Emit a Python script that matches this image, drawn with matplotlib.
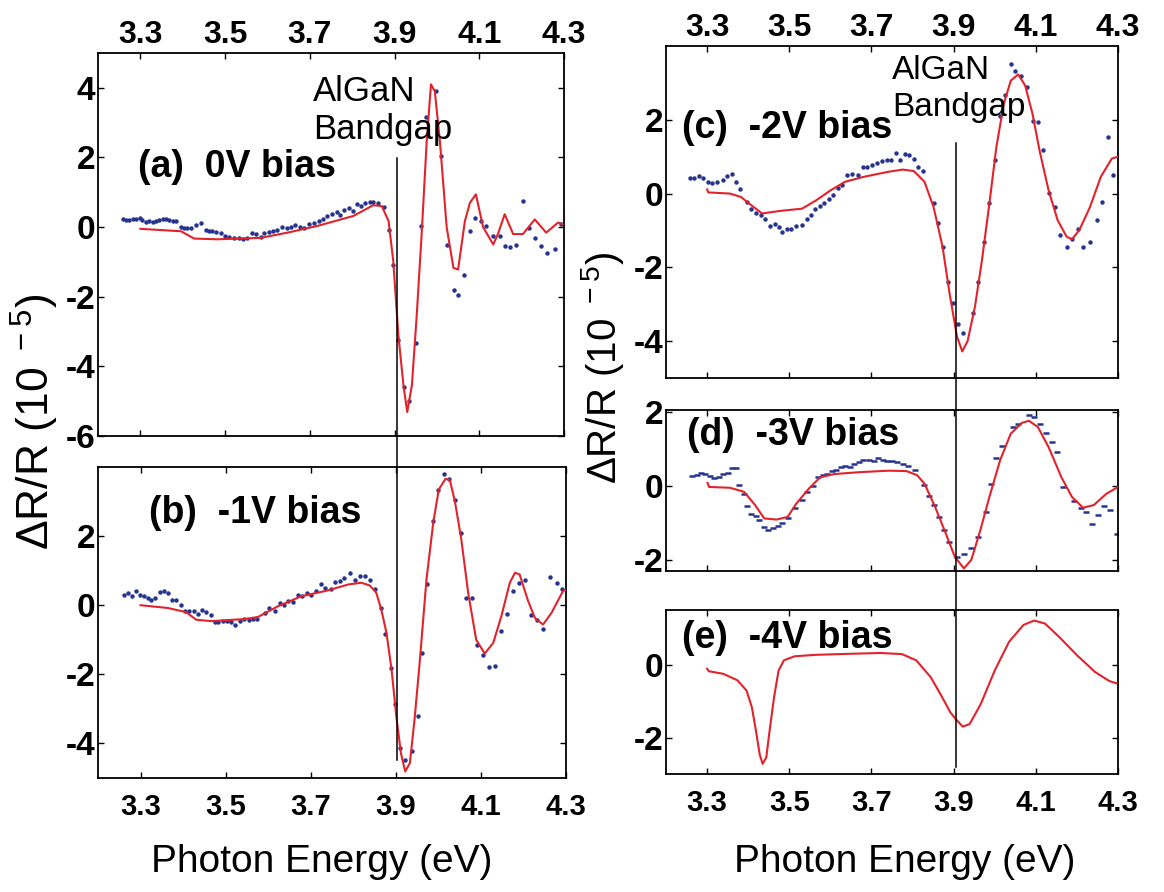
import matplotlib
matplotlib.use('Agg')
import matplotlib.pyplot as plt
import matplotlib.transforms as mtransforms
from matplotlib.lines import Line2D
from matplotlib import font_manager

plt.rcParams['font.family'] = ['Liberation Sans', 'DejaVu Sans']
plt.rcParams['mathtext.fontset'] = 'custom'
plt.rcParams['mathtext.rm'] = 'Liberation Sans'
plt.rcParams['mathtext.default'] = 'regular'

installed = {f.name for f in font_manager.fontManager.ttflist}
narrow = 'Liberation Sans Narrow' if 'Liberation Sans Narrow' in installed else 'Liberation Sans'

# ---- data (photon energy in eV, dR/R in 1e-5) ----
energy_ticks = [3.3, 3.5, 3.7, 3.9, 4.1, 4.3]
bandgap = 3.905

# (a) 0V bias
a_fit_E = [3.300, 3.396, 3.427, 3.482, 3.584, 3.647, 3.717, 3.803, 3.850, 3.870,
           3.886, 3.897, 3.909, 3.921, 3.930, 3.941, 3.952, 3.964, 3.976, 3.986,
           3.995, 4.007, 4.023, 4.039, 4.050, 4.066, 4.078, 4.092, 4.109, 4.133,
           4.144, 4.160, 4.180, 4.203, 4.231, 4.258, 4.286, 4.297]
a_fit = [-0.05, -0.12, -0.33, -0.35, -0.31, -0.16, 0.03, 0.32, 0.63, 0.60,
         0.17, -0.98, -3.10, -4.54, -5.31, -4.54, -2.60, -0.20, 2.48, 4.10,
         3.90, 2.48, 0.00, -1.17, -1.22, 0.17, 0.70, 0.94, 0.00, -0.50,
         -0.20, 0.37, -0.20, -0.20, 0.22, -0.16, 0.13, 0.08]
a_dat_E = [3.258, 3.266, 3.274, 3.282, 3.290, 3.298, 3.305, 3.313, 3.321, 3.329,
           3.337, 3.345, 3.353, 3.360, 3.368, 3.376, 3.384, 3.396, 3.403, 3.411,
           3.419, 3.431, 3.443, 3.454, 3.462, 3.470, 3.478, 3.490, 3.499, 3.509,
           3.521, 3.533, 3.543, 3.552, 3.564, 3.574, 3.584, 3.593, 3.603, 3.614,
           3.623, 3.635, 3.647, 3.656, 3.666, 3.676, 3.686, 3.697, 3.709, 3.721,
           3.731, 3.741, 3.752, 3.763, 3.772, 3.781, 3.792, 3.801, 3.811, 3.821,
           3.831, 3.841, 3.850, 3.862, 3.874,
           3.888, 3.897, 3.909, 3.922, 3.934, 3.950, 3.962, 3.974, 3.998, 4.009,
           4.024, 4.040, 4.050, 4.064, 4.078, 4.091, 4.105, 4.117, 4.133, 4.148,
           4.160, 4.173, 4.187, 4.203, 4.217, 4.231, 4.246, 4.260, 4.278, 4.293]
a_dat = [0.22, 0.21, 0.21, 0.22, 0.23, 0.26, 0.19, 0.16, 0.17, 0.16,
         0.17, 0.20, 0.24, 0.22, 0.19, 0.17, 0.17, 0.00, -0.04, -0.04,
         -0.02, 0.05, 0.12, -0.07, -0.10, -0.10, -0.15, -0.18, -0.25, -0.28,
         -0.30, -0.32, -0.35, -0.30, -0.18, -0.20, -0.29, -0.17, -0.15, -0.12,
         -0.08, 0.00, -0.03, 0.00, 0.05, 0.01, -0.04, 0.10, 0.12, 0.17,
         0.22, 0.33, 0.38, 0.42, 0.35, 0.50, 0.55, 0.47, 0.67, 0.62,
         0.70, 0.73, 0.72, 0.70, 0.57,
         -0.07, -1.08, -3.24, -4.59, -5.00, -3.34, 0.03, 3.15, 3.92, 2.05,
         -0.50, -1.80, -1.94, -1.37, -0.10, 0.25, 0.17, 0.03, -0.26, -0.26,
         -0.55, -0.58, -0.50, 0.75, -0.02, -0.31, -0.53, -0.74, -0.62, 0.08]

# (b) -1V bias
b_fit_E = [3.300, 3.364, 3.407, 3.431, 3.466, 3.545, 3.576, 3.623, 3.678, 3.741,
           3.788, 3.819, 3.839, 3.854, 3.866, 3.878, 3.890, 3.901, 3.912, 3.922,
           3.933, 3.944, 3.956, 3.972, 3.988, 4.001, 4.017, 4.027, 4.039, 4.054,
           4.070, 4.089, 4.109, 4.129, 4.148, 4.168, 4.180, 4.191, 4.211, 4.227,
           4.246, 4.266, 4.293, 4.300]
b_fit = [0.00, -0.08, -0.20, -0.42, -0.46, -0.40, -0.34, -0.03, 0.26, 0.43,
         0.60, 0.65, 0.57, 0.36, -0.13, -0.80, -1.86, -3.20, -4.28, -4.81,
         -4.57, -3.31, -1.67, 0.74, 2.39, 3.35, 3.66, 3.62, 3.00, 1.90,
         0.36, -1.00, -1.40, -1.09, -0.32, 0.65, 0.94, 0.89, 0.12, -0.37,
         -0.56, -0.22, 0.41, 0.45]
b_dat_E = [3.262, 3.270, 3.280, 3.290, 3.299, 3.308, 3.317, 3.325, 3.333, 3.345,
           3.355, 3.364, 3.374, 3.384, 3.394, 3.405, 3.415, 3.425, 3.435, 3.444,
           3.454, 3.465, 3.474, 3.483, 3.494, 3.504, 3.513, 3.523, 3.533, 3.543,
           3.554, 3.564, 3.574, 3.592, 3.603, 3.615, 3.627, 3.637, 3.647, 3.658,
           3.670, 3.680, 3.691, 3.701, 3.713, 3.723, 3.734, 3.747, 3.756, 3.768,
           3.778, 3.792, 3.805, 3.815, 3.827, 3.839, 3.850, 3.864, 3.875, 3.888,
           3.899, 3.911, 3.922, 3.937, 3.951, 3.962, 3.974, 3.988, 3.999, 4.013,
           4.025, 4.039, 4.053, 4.064, 4.078, 4.091, 4.105, 4.118, 4.133, 4.148,
           4.162, 4.176, 4.189, 4.203, 4.217, 4.231, 4.246, 4.262, 4.278, 4.291]
b_dat = [0.31, 0.36, 0.26, 0.41, 0.29, 0.26, 0.21, 0.16, 0.21, 0.39,
         0.41, 0.36, 0.16, 0.16, 0.02, -0.17, -0.17, -0.17, -0.25, -0.14,
         -0.20, -0.29, -0.48, -0.48, -0.46, -0.46, -0.49, -0.56, -0.46, -0.40,
         -0.43, -0.40, -0.40, -0.22, -0.08, -0.17, 0.07, 0.02, 0.12, 0.09,
         0.29, 0.26, 0.36, 0.31, 0.41, 0.60, 0.50, 0.47, 0.67, 0.70,
         0.79, 0.94, 0.74, 0.86, 0.84, 0.74, 0.47, -0.08, -0.82, -1.82,
         -2.85, -4.14, -4.47, -4.23, -3.20, -1.38, 0.60, 2.43, 3.33, 3.79,
         3.64, 3.04, 2.10, 0.21, 0.21, -1.14, -1.43, -1.80, -1.77, -0.75,
         -0.24, 0.41, 0.63, 0.74, -0.27, -0.42, -0.68, 0.81, 0.65, 0.48]

# (c) -2V bias
c_fit_E = [3.300, 3.303, 3.355, 3.382, 3.408, 3.434, 3.478, 3.531, 3.566, 3.601,
           3.636, 3.680, 3.741, 3.776, 3.803, 3.829, 3.851, 3.873, 3.890, 3.908,
           3.921, 3.934, 3.952, 3.969, 3.987, 4.004, 4.022, 4.039, 4.057, 4.074,
           4.092, 4.109, 4.131, 4.153, 4.175, 4.188, 4.206, 4.232, 4.258, 4.285,
           4.298]
c_fit = [0.11, 0.03, 0.00, -0.09, -0.32, -0.54, -0.47, -0.41, -0.18, 0.09,
         0.32, 0.45, 0.59, 0.65, 0.61, 0.32, -0.36, -1.44, -2.70, -3.87,
         -4.28, -4.00, -3.06, -1.80, -0.27, 1.26, 2.43, 3.06, 3.23, 2.93,
         2.16, 1.17, 0.09, -0.72, -1.17, -1.24, -0.99, -0.36, 0.45, 0.95,
         0.99]
c_dat_E = [3.259, 3.269, 3.281, 3.291, 3.303, 3.313, 3.325, 3.338, 3.348, 3.360,
           3.371, 3.380, 3.397, 3.406, 3.418, 3.430, 3.441, 3.453, 3.465, 3.474,
           3.482, 3.494, 3.504, 3.517, 3.531, 3.544, 3.553, 3.563, 3.575, 3.585,
           3.596, 3.607, 3.618, 3.629, 3.640, 3.653, 3.667, 3.680, 3.690, 3.702,
           3.713, 3.725, 3.737, 3.748, 3.759, 3.769, 3.781, 3.792, 3.803, 3.814,
           3.826, 3.851, 3.862, 3.873, 3.886, 3.899, 3.910, 3.924, 3.947, 3.960,
           3.974, 3.987, 4.000, 4.013, 4.026, 4.039, 4.050, 4.064, 4.079, 4.092,
           4.105, 4.118, 4.131, 4.146, 4.160, 4.175, 4.188, 4.203, 4.216, 4.231,
           4.248, 4.261, 4.276, 4.289]
c_dat = [0.43, 0.41, 0.47, 0.42, 0.32, 0.29, 0.32, 0.36, 0.47, 0.52,
         0.32, 0.11, -0.23, -0.43, -0.52, -0.59, -0.68, -0.88, -0.83, -0.92,
         -1.04, -0.97, -0.95, -0.88, -0.86, -0.68, -0.59, -0.43, -0.34, -0.25,
         -0.16, -0.05, 0.14, 0.23, 0.50, 0.52, 0.50, 0.72, 0.72, 0.77,
         0.83, 0.87, 0.90, 0.90, 1.10, 0.92, 1.08, 1.04, 0.95, 0.72,
         0.61, -0.25, -0.79, -1.46, -2.41, -2.97, -3.53, -3.78, -3.24, -2.41,
         -1.31, -0.25, 0.92, 2.09, 2.66, 3.50, 3.33, 3.20, 2.88, 1.96,
         1.94, 1.17, 0.02, -0.36, -1.13, -1.44, -1.22, -0.97, -1.44, -1.31,
         -0.72, -0.23, 1.53, 0.50]

# (d) -3V bias
d_fit_E = [3.301, 3.305, 3.355, 3.390, 3.417, 3.439, 3.469, 3.496, 3.517, 3.548,
           3.575, 3.610, 3.671, 3.741, 3.785, 3.811, 3.829, 3.855, 3.881, 3.903,
           3.925, 3.943, 3.965, 3.987, 4.013, 4.039, 4.066, 4.083, 4.105, 4.131,
           4.162, 4.188, 4.215, 4.241, 4.272, 4.300]
d_fit = [0.08, -0.03, -0.05, -0.16, -0.52, -0.88, -0.91, -0.84, -0.48, -0.07,
         0.23, 0.32, 0.37, 0.41, 0.40, 0.29, 0.06, -0.57, -1.29, -1.92,
         -2.23, -2.00, -1.20, -0.30, 0.69, 1.41, 1.70, 1.76, 1.59, 1.05,
         0.24, -0.30, -0.59, -0.52, -0.21, -0.03]
d_dat_E = [3.263, 3.275, 3.285, 3.296, 3.307, 3.318, 3.329, 3.339, 3.351, 3.361,
           3.371, 3.378, 3.389, 3.397, 3.408, 3.418, 3.427, 3.439, 3.449, 3.460,
           3.472, 3.482, 3.496, 3.513, 3.531, 3.544, 3.557, 3.570, 3.582, 3.592,
           3.603, 3.614, 3.625, 3.636, 3.647, 3.658, 3.669, 3.680, 3.693, 3.706,
           3.717, 3.728, 3.739, 3.750, 3.763, 3.776, 3.789, 3.807, 3.829, 3.839,
           3.851, 3.864, 3.877, 3.888, 3.908, 3.925, 3.943, 3.960, 3.978, 3.991,
           4.004, 4.017, 4.044, 4.057, 4.083, 4.096, 4.109, 4.125, 4.140, 4.152,
           4.166, 4.193, 4.210, 4.223, 4.237, 4.252, 4.266, 4.281, 4.298]
d_dat = [0.26, 0.29, 0.35, 0.32, 0.26, 0.20, 0.24, 0.31, 0.35, 0.47,
         0.47, 0.02, -0.21, -0.55, -0.77, -0.82, -0.91, -1.11, -1.18, -1.14,
         -1.09, -1.00, -0.86, -0.59, -0.39, -0.16, -0.01, 0.23, 0.29, 0.33,
         0.40, 0.44, 0.50, 0.53, 0.50, 0.59, 0.65, 0.69, 0.69, 0.68,
         0.74, 0.69, 0.67, 0.68, 0.65, 0.59, 0.53, 0.44, 0.02, -0.28,
         -0.52, -0.84, -1.20, -1.51, -1.92, -1.85, -1.69, -1.38, -0.70, 0.06,
         0.74, 1.07, 1.58, 1.68, 1.91, 1.86, 1.68, 1.43, 1.19, 0.92,
         -0.03, -0.41, -0.59, -0.70, -1.02, -0.79, -0.55, -0.66, -1.29]

# (e) -4V bias
e_fit_E = [3.300, 3.304, 3.339, 3.374, 3.396, 3.409, 3.419, 3.428, 3.435, 3.444,
           3.452, 3.463, 3.474, 3.487, 3.513, 3.565, 3.652, 3.722, 3.774, 3.809,
           3.844, 3.870, 3.892, 3.905, 3.922, 3.939, 3.966, 4.000, 4.035, 4.070,
           4.096, 4.122, 4.157, 4.200, 4.244, 4.279, 4.296]
e_fit = [-0.11, -0.18, -0.25, -0.43, -0.71, -1.17, -1.82, -2.46, -2.72, -2.55,
         -1.82, -0.89, -0.16, 0.12, 0.23, 0.27, 0.30, 0.32, 0.29, 0.12,
         -0.34, -0.85, -1.31, -1.49, -1.70, -1.63, -1.08, -0.16, 0.63, 1.09,
         1.21, 1.13, 0.76, 0.26, -0.20, -0.45, -0.51]

# ---- figure ----
W, H = 1164, 892
fig = plt.figure(figsize=(W / 100, H / 100), dpi=100)


def box(l, t, r, b):
    return [l / W, 1 - b / H, (r - l) / W, (b - t) / H]


def fx(x):
    return x / W


def fy(y):
    return 1 - y / H


RED = '#e3222b'
BLUE = '#26348f'

ax_a = fig.add_axes(box(98, 53, 564, 436))
ax_b = fig.add_axes(box(98, 467, 566, 778))
ax_c = fig.add_axes(box(666, 46, 1118, 378))
ax_d = fig.add_axes(box(666, 410, 1118, 571))
ax_e = fig.add_axes(box(666, 610, 1118, 774))

panels = [
    (ax_a, a_fit_E, a_fit, a_dat_E, a_dat, 'o', (-6, 5), [-6, -4, -2, 0, 2, 4], 'top'),
    (ax_b, b_fit_E, b_fit, b_dat_E, b_dat, 'o', (-5, 4), [-4, -2, 0, 2], 'bottom'),
    (ax_c, c_fit_E, c_fit, c_dat_E, c_dat, 'o', (-5, 4), [-4, -2, 0, 2], 'top'),
    (ax_d, d_fit_E, d_fit, d_dat_E, d_dat, '_', (-2.3, 2.05), [-2, 0, 2], None),
    (ax_e, e_fit_E, e_fit, None, None, None, (-3, 1.5), [-2, 0], 'bottom'),
]

for ax, fE, fv, dE, dv, mk, ylim, yt, lab in panels:
    if dE is not None:
        if mk == 'o':
            ax.plot(dE, dv, 'o', ms=3.2, color=BLUE, mec='none', zorder=2)
        else:
            ax.plot(dE, dv, '_', ms=4, mew=1.8, color=BLUE, zorder=2)
    ax.plot(fE, fv, color=RED, lw=1.5, zorder=3)
    ax.set_xlim(3.2, 4.3)
    ax.set_ylim(*ylim)
    ax.set_yticks(yt, labels=[str(v) for v in yt], fontsize=24, fontweight='bold')
    if lab == 'bottom':
        ax.set_xticks(energy_ticks, labels=[f'{t:.1f}' for t in energy_ticks],
                      fontsize=21, fontweight='bold', family=narrow)
    else:
        ax.set_xticks(energy_ticks, labels=[f'{t:.1f}' for t in energy_ticks],
                      fontsize=23, fontweight='bold')
    ax.tick_params(direction='in', top=True, right=True, length=4, width=1,
                   labeltop=(lab == 'top'), labelbottom=(lab == 'bottom'), pad=2)
    if lab == 'bottom':
        ax.tick_params(axis='x', pad=11)
    for s in ax.spines.values():
        s.set_linewidth(1.3)

# bandgap markers crossing the stacked panels
for ax, y0, y1 in [(ax_a, 158, 760), (ax_c, 143, 767)]:
    tr = mtransforms.blended_transform_factory(ax.transData, fig.transFigure)
    fig.add_artist(Line2D([bandgap, bandgap], [fy(y0), fy(y1)], transform=tr,
                          color='black', lw=1.1))

# annotations
fig.text(fx(313), fy(101), 'AlGaN', fontsize=25, va='baseline')
fig.text(fx(313), fy(139), 'Bandgap', fontsize=25, va='baseline')
fig.text(fx(892), fy(79), 'AlGaN', fontsize=24, va='baseline')
fig.text(fx(892), fy(116), 'Bandgap', fontsize=24, va='baseline')

for x, y, s in [(138, 167, '(a)  0V bias'), (149, 513, '(b)  -1V bias'),
                (682, 128, '(c)  -2V bias'), (687, 435, '(d)  -3V bias'),
                (682, 638, '(e)  -4V bias')]:
    fig.text(fx(x), fy(y), s, fontsize=27, fontweight='bold', va='center')

ylab = 'ΔR/R (10$^{\\ -5}$)'
fig.text(fx(35), fy(422), ylab, rotation=90, fontsize=32, ha='center', va='center')
fig.text(fx(603), fy(368), ylab, rotation=90, fontsize=29, ha='center', va='center')
fig.text(fx(322), fy(862), 'Photon Energy (eV)', fontsize=28, ha='center', va='center')
fig.text(fx(905), fy(862), 'Photon Energy (eV)', fontsize=28, ha='center', va='center')

fig.savefig('out.png', dpi=100)
